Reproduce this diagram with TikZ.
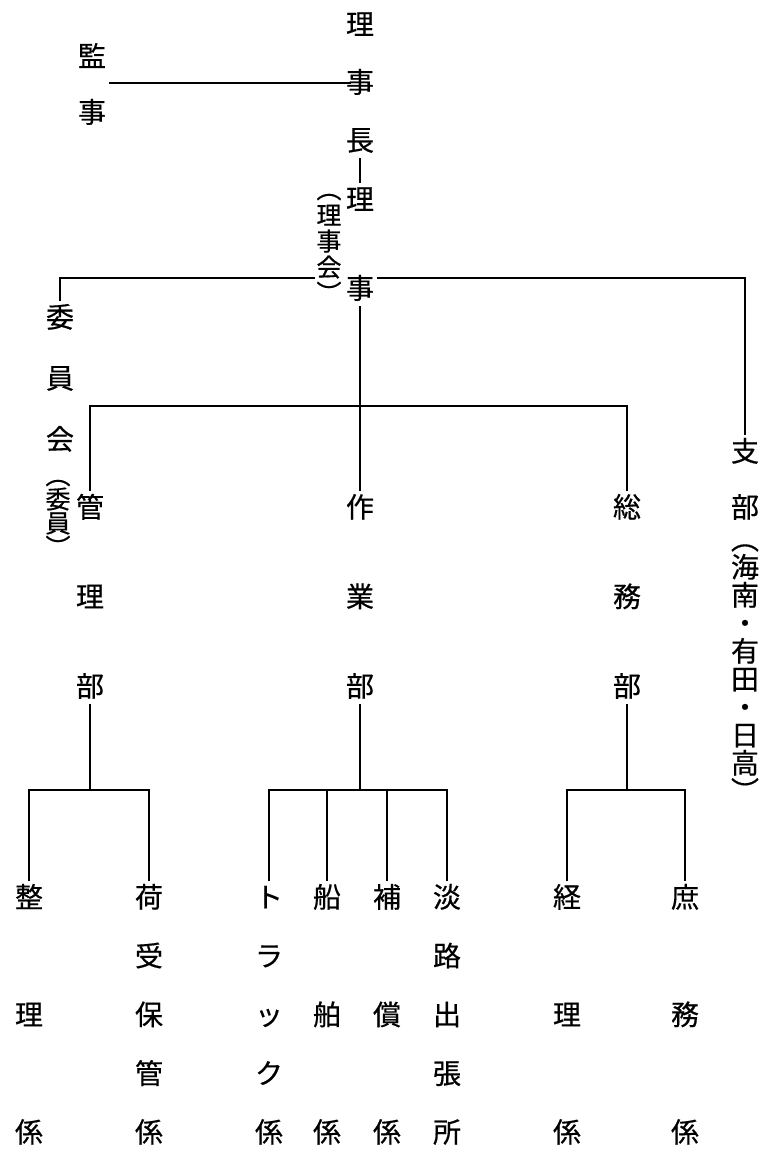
\documentclass[tikz,border=0pt]{standalone}
\usepackage{fontspec}
\usepackage{tikz}
\usetikzlibrary{calc}
\newfontfamily\jp[FakeBold=0.5]{Noto Sans CJK JP}

\begin{document}
\begin{tikzpicture}[x=1pt,y=-1pt,line width=1.2pt,
  ch/.style={font=\jp\fontsize{28}{28}\selectfont,inner sep=0pt,outer sep=3pt,text height=23.5pt,text depth=4.5pt},
  note/.style={ch,font=\jp\fontsize{25}{25}\selectfont,text height=20.5pt,text depth=3.5pt,outer sep=2pt}]
  \useasboundingbox (0,0) rectangle (777,1170);
  % vertical columns: name / x / first y / step / style / characters
  \foreach \nm/\x/\y/\st/\sty/\txt in {
      kansa/92/57/56/ch/{監,事},
      cho/360/25/58/ch/{理,事,長},
      riji/360/200/89/ch/{理,事},
      rinote/329/190/26/note/{︵,理,事,会,︶},
      iin/60/318/61/ch/{委,員,会},
      iinnote/58/476/24/note/{︵,委,員,︶},
      kanri/90/508/89.5/ch/{管,理,部},
      sagyo/360/508/89.5/ch/{作,業,部},
      somu/627/508/89.5/ch/{総,務,部},
      shibu/745/452/56/ch/{支,部},
      shinote/745/540/28/ch/{︵,海,南,・,有,田,・,日,高,︶},
      seiri/29/898/117.5/ch/{整,理,係},
      niuke/149/898/58.75/ch/{荷,受,保,管,係},
      truck/269/898/58.75/ch/{ト,ラ,ッ,ク,係},
      senpaku/327/898/117.5/ch/{船,舶,係},
      hosho/387/898/117.5/ch/{補,償,係},
      awaji/447/898/58.75/ch/{淡,路,出,張,所},
      keiri/567/898/117.5/ch/{経,理,係},
      shomu/685/898/117.5/ch/{庶,務,係}}{
    \foreach \c [count=\k] in \txt
      \node[\sty] (\nm-\k) at (\x,{\y+(\k-1)*\st}) {\c};}
  % top
  \draw[shorten <=-8pt] (cho-2.west) -- (cho-2.west -| kansa-1.east);
  \draw (cho-3.south) -- (riji-1.north);
  \coordinate (hub) at (360,278);
  \draw (rinote-4.west |- hub) -| (iin-1.north);
  \draw (riji-2.east |- hub) -| (shibu-1.north);
  % departments
  \coordinate (bar) at (360,406);
  \draw (riji-2.south) -- (sagyo-1.north);
  \draw (kanri-1.north) |- (bar) -| (somu-1.north);
  % sections
  \coordinate (lowbar) at (360,790);
  \foreach \d in {kanri,sagyo,somu}
    \draw (\d-3.south) -- (\d-3.south |- lowbar);
  \draw (seiri-1.north) |- (kanri-3.south |- lowbar) -| (niuke-1.north);
  \draw (truck-1.north) |- (awaji-1.north |- lowbar) -- (awaji-1.north);
  \foreach \c in {senpaku,hosho}
    \draw (\c-1.north) -- (\c-1.north |- lowbar);
  \draw (keiri-1.north) |- (somu-3.south |- lowbar) -| (shomu-1.north);
\end{tikzpicture}
\end{document}
